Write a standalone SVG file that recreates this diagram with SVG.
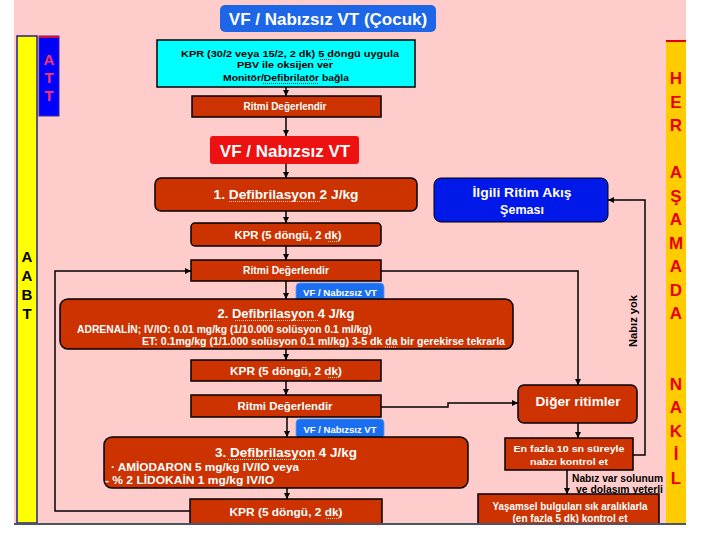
<svg xmlns="http://www.w3.org/2000/svg" width="720" height="540" viewBox="0 0 720 540">
<style>
.box{fill:#CC3300;stroke:#000;stroke-width:1.5}
.t{font-family:"Liberation Sans",Arial,sans-serif;font-weight:bold;fill:#fff;text-anchor:middle}
.s{text-anchor:start}
.k{fill:#000}
.edge{stroke:#000;stroke-width:1.5;fill:none}
.lbl{fill:#1A6EF0;stroke:#5B9BF5;stroke-width:0.8}
.her{font-family:"Liberation Sans",Arial,sans-serif;font-weight:bold;fill:#E8000A;font-size:17px;text-anchor:middle}
.side{font-family:"Liberation Sans",Arial,sans-serif;font-weight:bold;font-size:15px;text-anchor:middle}
.sq{stroke:#E8D8D0;stroke-width:1;stroke-dasharray:1,1;fill:none}
.sqd{stroke:#334;stroke-width:1;stroke-dasharray:1,1;fill:none}
</style>
<defs>
<marker id="ah" viewBox="0 0 10 10" refX="10" refY="5" markerWidth="6" markerHeight="6" orient="auto" markerUnits="userSpaceOnUse"><path d="M0,0 L10,5 L0,10 z" fill="#000"/></marker>
</defs>
<rect x="0" y="0" width="720" height="540" fill="#fff"/>
<rect x="14" y="0" width="672" height="524" fill="#FFCCCC"/>

<g id="connectors">
<path class="edge" marker-end="url(#ah)" d="M286,87 V96"/>
<path class="edge" marker-end="url(#ah)" d="M286,117 V136"/>
<path class="edge" marker-end="url(#ah)" d="M286,164 V178"/>
<path class="edge" marker-end="url(#ah)" d="M286,211 V223"/>
<path class="edge" marker-end="url(#ah)" d="M286,246 V260"/>
<path class="edge" marker-end="url(#ah)" d="M286,281 V299"/>
<path class="edge" marker-end="url(#ah)" d="M286,349 V360"/>
<path class="edge" marker-end="url(#ah)" d="M286,381 V395"/>
<path class="edge" marker-end="url(#ah)" d="M287,417 V437"/>
<path class="edge" marker-end="url(#ah)" d="M287,488 V499"/>
<path class="edge" marker-end="url(#ah)" d="M190,511 H55 V271 H191"/>
<path class="edge" marker-end="url(#ah)" d="M381,271 H578 V385"/>
<path class="edge" marker-end="url(#ah)" d="M381,407 H448 V403 H518"/>
<path class="edge" marker-end="url(#ah)" d="M578,423 V438"/>
<path class="edge" marker-end="url(#ah)" d="M633,455 H645 V200 H608"/>
<path class="edge" marker-end="url(#ah)" d="M567,470 V494"/>
<text class="t k" font-size="10" transform="translate(637,321) rotate(-90)" textLength="52" lengthAdjust="spacingAndGlyphs">Nabız yok</text>
<text class="t k s" font-size="10" x="572" y="482" textLength="91" lengthAdjust="spacingAndGlyphs">Nabız var solunum</text>
<text class="t k s" font-size="10" x="576" y="493" textLength="87" lengthAdjust="spacingAndGlyphs">ve dolaşım yeterli</text>
</g>

<g id="title">
<rect x="220" y="5" width="216" height="27" rx="5" fill="#1E66E8"/>
<text class="t" x="328" y="25" font-size="17">VF / Nabızsız VT (Çocuk)</text>
</g>

<g id="kpr-start">
<rect x="157" y="40" width="258" height="47" fill="#00FFFF" stroke="#000" stroke-width="1.5"/>
<text class="t k" x="290" y="57" font-size="9.5" textLength="218" lengthAdjust="spacingAndGlyphs">KPR (30/2 veya 15/2, 2 dk) 5 döngü uygula</text>
<text class="t k" x="285" y="68" font-size="9.5" textLength="96" lengthAdjust="spacingAndGlyphs">PBV ile oksijen ver</text>
<text class="t k" x="286" y="81" font-size="9.5" textLength="126" lengthAdjust="spacingAndGlyphs">Monitör/Defibrilatör  bağla</text>
<path class="sqd" d="M320,59.5 H332 M263,83.5 H318"/>
</g>

<g id="ritmi1">
<rect class="box" x="192" y="96" width="189" height="21"/>
<text class="t" x="285" y="110" font-size="10" textLength="83" lengthAdjust="spacingAndGlyphs">Ritmi Değerlendir</text>
</g>

<g id="vf">
<rect x="210" y="136" width="149" height="28" rx="3" fill="#EE1111"/>
<text class="t" x="285" y="157" font-size="17">VF / Nabızsız VT</text>
</g>

<g id="defib1">
<rect class="box" x="155" y="178" width="262" height="33" rx="6"/>
<text class="t" x="286" y="199" font-size="13.5" textLength="145" lengthAdjust="spacingAndGlyphs">1. Defibrilasyon  2 J/kg</text>
<path class="sq" d="M229,201.5 H321"/>
</g>

<g id="kpr1">
<rect class="box" x="191" y="223" width="190" height="23" rx="4"/>
<text class="t" x="288" y="239" font-size="10.5" textLength="107" lengthAdjust="spacingAndGlyphs">KPR (5 döngü, 2 dk)</text>
<path class="sq" d="M328,241.5 H339"/>
</g>

<g id="ritmi2">
<rect class="box" x="191" y="260" width="190" height="21"/>
<text class="t" x="286" y="274" font-size="10" textLength="86" lengthAdjust="spacingAndGlyphs">Ritmi Değerlendir</text>
</g>

<g id="vf-label1">
<rect class="lbl" x="296" y="283" width="88" height="19" rx="4"/>
<text class="t" x="340" y="296" font-size="8.5" textLength="74" lengthAdjust="spacingAndGlyphs">VF / Nabızsız VT</text>
</g>

<g id="defib2">
<rect class="box" x="60" y="299" width="453" height="50" rx="8"/>
<text class="t" x="286" y="318" font-size="13" textLength="137" lengthAdjust="spacingAndGlyphs">2. Defibrilasyon 4 J/kg</text>
<text class="t s" x="77" y="333" font-size="10" textLength="295" lengthAdjust="spacingAndGlyphs">ADRENALİN; IV/IO: 0.01 mg/kg (1/10.000 solüsyon 0.1 ml/kg)</text>
<text class="t s" x="142" y="345" font-size="10" textLength="363" lengthAdjust="spacingAndGlyphs">ET: 0.1mg/kg (1/1.000 solüsyon 0.1 ml/kg) 3-5 dk da bir gerekirse tekrarla</text>
<path class="sq" d="M235,320.5 H318 M385,347 H396"/>
</g>

<g id="kpr2">
<rect class="box" x="191" y="360" width="190" height="21"/>
<text class="t" x="286" y="375" font-size="11" textLength="112" lengthAdjust="spacingAndGlyphs">KPR  (5 döngü, 2 dk)</text>
<path class="sq" d="M328,377.5 H339"/>
</g>

<g id="ritmi3">
<rect class="box" x="191" y="395" width="190" height="22"/>
<text class="t" x="285" y="410" font-size="11" textLength="95" lengthAdjust="spacingAndGlyphs">Ritmi Değerlendir</text>
</g>

<g id="vf-label2">
<rect class="lbl" x="296" y="419" width="88" height="20" rx="4"/>
<text class="t" x="340" y="433" font-size="8.5" textLength="73" lengthAdjust="spacingAndGlyphs">VF / Nabızsız VT</text>
</g>

<g id="defib3">
<rect class="box" x="104" y="437" width="364" height="51" rx="8"/>
<text class="t" x="286" y="457" font-size="13" textLength="142" lengthAdjust="spacingAndGlyphs">3. Defibrilasyon   4 J/kg</text>
<text class="t s" x="111" y="471" font-size="10.5" textLength="188" lengthAdjust="spacingAndGlyphs">·  AMİODARON 5 mg/kg IV/IO veya</text>
<text class="t s" x="105" y="484" font-size="10.5" textLength="169" lengthAdjust="spacingAndGlyphs">- % 2 LİDOKAİN 1 mg/kg IV/IO</text>
<path class="sq" d="M228,459.5 H317"/>
</g>

<g id="kpr3">
<rect class="box" x="190" y="499" width="192" height="30"/>
<text class="t" x="286" y="516" font-size="11.5" textLength="113" lengthAdjust="spacingAndGlyphs">KPR  (5 döngü, 2 dk)</text>
<path class="sq" d="M326,518.5 H339"/>
</g>

<g id="ilgili">
<rect x="434" y="178" width="174" height="44" rx="7" fill="#0018E8" stroke="#000" stroke-width="1"/>
<text class="t" x="522" y="197" font-size="12.5" textLength="99" lengthAdjust="spacingAndGlyphs">İlgili Ritim Akış</text>
<text class="t" x="522" y="214" font-size="12.5">Şeması</text>
</g>

<g id="diger">
<rect class="box" x="518" y="385" width="119" height="38" rx="6"/>
<text class="t" x="578" y="406" font-size="12" textLength="85" lengthAdjust="spacingAndGlyphs">Diğer ritimler</text>
</g>

<g id="nabiz-kontrol">
<rect class="box" x="505" y="438" width="128" height="32"/>
<text class="t" x="569" y="452" font-size="9.5" textLength="111" lengthAdjust="spacingAndGlyphs">En fazla 10 sn süreyle</text>
<text class="t" x="569" y="465" font-size="9.5" textLength="78" lengthAdjust="spacingAndGlyphs">nabzı kontrol et</text>
</g>

<g id="yasamsel">
<rect class="box" x="478" y="494" width="181" height="35"/>
<text class="t" x="570" y="510" font-size="10" textLength="155" lengthAdjust="spacingAndGlyphs">Yaşamsel bulguları sık aralıklarla</text>
<text class="t" x="570" y="522" font-size="10" textLength="115" lengthAdjust="spacingAndGlyphs">(en fazla 5 dk) kontrol et</text>
</g>

<g id="aabt">
<rect x="17" y="36" width="20" height="487" fill="#FFFF00" stroke="#22228A" stroke-width="1.5"/>
<text class="side" x="27" y="262">A</text>
<text class="side" x="27" y="281">A</text>
<text class="side" x="27" y="300">B</text>
<text class="side" x="27" y="319">T</text>
</g>

<g id="att">
<rect x="39" y="36" width="20" height="80" fill="#0000FF" stroke="#3A2A9A" stroke-width="1"/>
<line x1="39" y1="37" x2="59" y2="37" stroke="#D01030" stroke-width="2"/>
<text class="side" x="49" y="65" fill="#FF3366">A</text>
<text class="side" x="49" y="83" fill="#FF3366">T</text>
<text class="side" x="49" y="101" fill="#FF3366">T</text>
</g>

<g id="her-asamada-nakil">
<rect x="666" y="40" width="20" height="484" fill="#FFCC00"/>
<line x1="666" y1="41" x2="686" y2="41" stroke="#E00000" stroke-width="2"/>
<text class="her" x="676" y="84">H</text>
<text class="her" x="676" y="108">E</text>
<text class="her" x="676" y="131">R</text>
<text class="her" x="676" y="178">A</text>
<text class="her" x="676" y="202">Ş</text>
<text class="her" x="676" y="225">A</text>
<text class="her" x="676" y="249">M</text>
<text class="her" x="676" y="272">A</text>
<text class="her" x="676" y="296">D</text>
<text class="her" x="676" y="319">A</text>
<text class="her" x="676" y="390">N</text>
<text class="her" x="676" y="413">A</text>
<text class="her" x="676" y="437">K</text>
<text class="her" x="676" y="460">İ</text>
<text class="her" x="676" y="484">L</text>
</g>

<rect x="0" y="524" width="720" height="16" fill="#fff"/>
<line x1="14" y1="524" x2="686" y2="524" stroke="#4A5568" stroke-width="2"/>
</svg>
